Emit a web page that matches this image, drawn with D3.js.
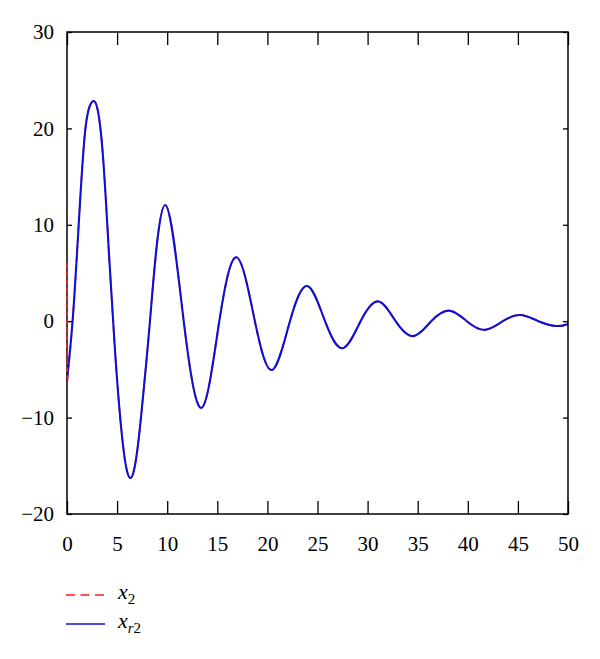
<!DOCTYPE html>
<html>
<head>
<meta charset="utf-8">
<script src="https://cdn.jsdelivr.net/npm/d3@7"></script>
<style>
  body { margin: 0; background: #fff; }
  svg { display: block; }
  text { font-family: "Liberation Serif", "DejaVu Serif", serif; fill: #000; }
</style>
</head>
<body>
<svg id="chart" width="600" height="659"></svg>
<script>
// ---- data ----
const xrT = [0, 0.6, 1.2, 1.8, 2.4, 3.0, 3.6, 4.2, 4.8, 5.4, 6.0, 6.6, 7.2, 7.8, 8.4, 9.8, 11.65, 13.46, 15.2, 16.95, 18.75, 20.47, 22.25, 24.0, 25.75, 27.52, 29.3, 31.08, 32.8, 34.56, 36.35, 38.15, 39.9, 41.7, 43.5, 45.26, 47.05, 48.85, 50];
const xrV = [-6.2, 0.6, 10.6, 19.6, 22.6, 22.2, 17.0, 6.8, -3.2, -11.0, -15.6, -15.8, -11.8, -5.5, 1.5, 12.05, 0, -8.97, 0, 6.62, 0, -5.06, 0, 3.65, 0, -2.8, 0, 2.05, 0, -1.55, 0, 1.1, 0, -0.9, 0, 0.64, 0, -0.5, -0.3];
// x2 starts at about 6, drops to the xr2 curve almost at once, then follows it
const x2HeadT = [0, 0.03];
const x2HeadV = [6.0, -6.2];
const x2T = xrT.slice();
const x2V = xrV.slice();

const xTicks = [0, 5, 10, 15, 20, 25, 30, 35, 40, 45, 50];
const yTicks = [-20, -10, 0, 10, 20, 30];
const seriesNames = ["x2", "xr2"];
const seriesColors = ["#ff1a1a", "#1010d0"];

// ---- layout ----
const svg = d3.select("#chart");
const L = 67, R = 568, T = 32, B = 514;
const x = d3.scaleLinear().domain([0, 50]).range([L, R]);
const y = d3.scaleLinear().domain([-20, 30]).range([B, T]);

const fmt = d => d < 0 ? "\u2212" + Math.abs(d) : String(d);

svg.append("clipPath").attr("id", "clip")
  .append("rect").attr("x", L - 3).attr("y", T).attr("width", R - L + 3).attr("height", B - T);

const lineSmooth = d3.line().x(d => x(d[0])).y(d => y(d[1])).curve(d3.curveNatural);
const lineStraight = d3.line().x(d => x(d[0])).y(d => y(d[1]));
const x2Head = x2HeadT.map((t, i) => [t, x2HeadV[i]]);
const x2Data = x2T.map((t, i) => [t, x2V[i]]);
const xrData = xrT.map((t, i) => [t, xrV[i]]);

const g = svg.append("g").attr("clip-path", "url(#clip)");
g.append("path").datum(x2Data).attr("d", lineSmooth)
  .attr("fill", "none").attr("stroke", seriesColors[0]).attr("stroke-width", 1.6)
  .attr("stroke-dasharray", "6,4");
g.append("path").datum(xrData).attr("d", lineSmooth)
  .attr("fill", "none").attr("stroke", seriesColors[1]).attr("stroke-width", 2.1);

// axes with inward ticks
const axB = d3.axisBottom(x).tickValues(xTicks).tickSizeInner(-13).tickSizeOuter(0).tickPadding(22).tickFormat(fmt);
const axT = d3.axisTop(x).tickValues(xTicks).tickSizeInner(-13).tickSizeOuter(0).tickFormat("");
const axL = d3.axisLeft(y).tickValues(yTicks).tickSizeInner(-5).tickSizeOuter(0).tickPadding(13).tickFormat(fmt);
const axR = d3.axisRight(y).tickValues(yTicks).tickSizeInner(-5).tickSizeOuter(0).tickFormat("");

function style(sel) {
  sel.selectAll(".domain").remove();
  sel.selectAll("line").attr("stroke", "#000").attr("stroke-width", 1.3);
  sel.selectAll("text").attr("font-size", 21).attr("font-family", "Liberation Serif, serif");
}
svg.append("g").attr("transform", `translate(0,${B})`).call(axB).call(style);
svg.append("g").attr("transform", `translate(0,${T})`).call(axT).call(style);
svg.append("g").attr("transform", `translate(${L},0)`).call(axL).call(style);
svg.append("g").attr("transform", `translate(${R},0)`).call(axR).call(style);

svg.append("rect").attr("x", L).attr("y", T).attr("width", R - L).attr("height", B - T)
  .attr("fill", "none").attr("stroke", "#000").attr("stroke-width", 1.5);

// x2 initial drop, drawn over the frame edge like the reference
svg.append("path").datum(x2Head).attr("d", lineStraight)
  .attr("fill", "none").attr("stroke", seriesColors[0]).attr("stroke-width", 1.8)
  .attr("stroke-dasharray", "5,3");

// legend
const leg = [
  { y: 595, dash: "9,5.5", sub: "2" },
  { y: 624, dash: null, sub: "r2" }
];
leg.forEach((d, i) => {
  svg.append("line").attr("x1", 66).attr("x2", 105).attr("y1", d.y).attr("y2", d.y)
    .attr("stroke", seriesColors[i]).attr("stroke-width", 1.6)
    .attr("stroke-dasharray", d.dash);
  const t = svg.append("text").attr("x", 118).attr("y", d.y + 4).attr("font-size", 22)
    .attr("font-style", "italic");
  t.append("tspan").text("x");
  const s = t.append("tspan").attr("dy", 5).attr("font-size", 15);
  if (d.sub === "2") {
    s.attr("font-style", "normal").text("2");
  } else {
    s.append("tspan").attr("font-style", "italic").text("r");
    s.append("tspan").attr("font-style", "normal").text("2");
  }
});
</script>
</body>
</html>
